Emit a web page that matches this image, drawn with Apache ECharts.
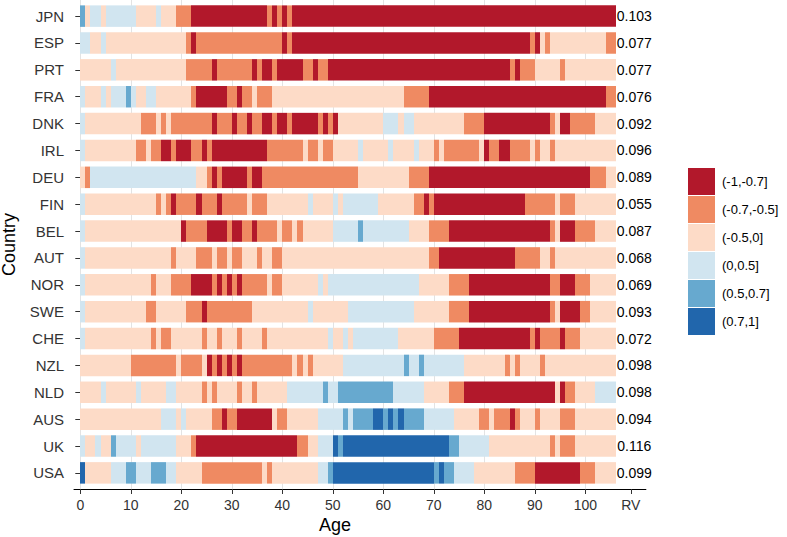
<!DOCTYPE html>
<html><head><meta charset="utf-8">
<script src="https://cdn.jsdelivr.net/npm/echarts@6/dist/echarts.min.js"></script>
<style>html,body{margin:0;padding:0;background:#fff}#c{width:787px;height:537px}</style>
</head><body><div id="c"></div>
<script>
const countries = ['JPN','ESP','PRT','FRA','DNK','IRL','DEU','FIN','BEL','AUT','NOR','SWE','CHE','NZL','NLD','AUS','UK','USA'];
const rvValues = ['0.103','0.077','0.077','0.076','0.092','0.096','0.089','0.055','0.087','0.068','0.069','0.093','0.072','0.098','0.098','0.094','0.116','0.099'];
const categoryLabels = ['(-1,-0.7]','(-0.7,-0.5]','(-0.5,0]','(0,0.5]','(0.5,0.7]','(0.7,1]'];
const categoryColors = ['#B2182B','#EF8A62','#FDDBC7','#D1E5F0','#67A9CF','#2166AC'];
const ageTicks = [0,10,20,30,40,50,60,70,80,90,100];
const rvTickLabel = 'RV';
// runs: [start age, category code 1..6]; each run lasts until the next start (last until age 106)
const JPN = [[0,5],[1,3],[2,4],[4,3],[5,4],[11,3],[15,4],[16,3],[19,2],[22,1],[37,2],[38,1],[39,2],[40,1],[41,2],[42,1]];
const ESP = [[0,4],[2,3],[4,4],[5,3],[21,2],[22,1],[23,2],[40,1],[41,2],[42,1],[89,2],[90,1],[91,3],[92,2],[93,3],[104,2]];
const PRT = [[0,3],[6,4],[7,3],[21,2],[26,1],[27,2],[34,1],[35,2],[36,1],[38,2],[39,1],[44,2],[46,1],[47,2],[49,1],[85,2],[86,1],[87,2],[90,3],[95,2],[96,3]];
const FRA = [[0,4],[1,3],[4,4],[5,3],[6,4],[9,5],[10,4],[11,3],[13,4],[15,3],[22,2],[23,1],[29,2],[31,1],[32,2],[34,3],[35,2],[38,3],[64,2],[69,1],[104,2]];
const DNK = [[0,4],[1,3],[12,2],[15,3],[16,2],[17,3],[18,2],[26,1],[27,2],[30,1],[31,2],[33,1],[34,2],[36,1],[38,2],[39,1],[41,2],[42,1],[47,2],[48,1],[49,2],[50,1],[51,3],[60,4],[63,3],[64,4],[66,3],[76,2],[80,1],[93,2],[94,3],[95,1],[97,2],[102,3]];
const IRL = [[0,4],[1,3],[11,2],[13,3],[14,2],[16,1],[18,2],[19,1],[22,2],[24,1],[25,2],[26,1],[37,2],[44,3],[45,2],[47,3],[48,2],[50,3],[55,4],[56,3],[61,4],[62,3],[66,4],[67,3],[70,2],[71,3],[72,2],[79,3],[80,1],[81,2],[83,1],[85,2],[89,3],[90,2],[91,3],[93,2],[94,3]];
const DEU = [[0,3],[1,2],[2,4],[23,3],[25,2],[26,1],[27,2],[28,1],[33,2],[34,1],[36,2],[55,3],[65,2],[69,1],[101,2],[104,3]];
const FIN = [[0,4],[1,3],[15,2],[16,3],[17,2],[18,1],[19,2],[23,1],[24,2],[27,1],[28,2],[33,3],[34,2],[37,3],[45,4],[46,3],[50,4],[51,3],[52,4],[59,3],[66,2],[68,1],[69,2],[70,1],[88,2],[94,3],[95,2],[98,3]];
const BEL = [[0,4],[1,3],[20,1],[21,2],[25,1],[29,2],[30,1],[32,2],[34,1],[35,2],[39,3],[40,2],[42,3],[43,2],[44,3],[50,4],[55,5],[56,4],[65,3],[69,2],[73,1],[93,2],[94,3],[95,1],[98,2],[102,3]];
const AUT = [[0,4],[1,3],[18,2],[19,3],[23,2],[26,3],[27,2],[29,3],[30,2],[32,3],[35,2],[36,3],[38,2],[40,3],[69,2],[71,1],[86,2],[91,3],[93,2],[94,3]];
const NOR = [[0,4],[1,3],[14,2],[15,3],[18,2],[22,1],[26,2],[27,1],[28,2],[29,1],[30,2],[31,1],[32,2],[37,3],[38,2],[40,3],[47,4],[48,3],[49,4],[67,3],[73,2],[77,1],[93,2],[95,1],[98,2],[101,3]];
const SWE = [[0,4],[1,3],[13,2],[15,3],[21,2],[24,1],[25,2],[34,3],[45,4],[46,3],[53,4],[66,3],[73,2],[77,1],[93,2],[94,3],[95,1],[99,2],[101,3]];
const CHE = [[0,4],[1,3],[14,2],[15,3],[16,2],[18,3],[24,2],[25,3],[27,2],[28,3],[31,2],[32,3],[36,2],[37,3],[49,4],[50,3],[52,4],[53,3],[54,4],[63,3],[70,2],[75,1],[89,2],[90,1],[91,2],[95,1],[96,2],[99,3]];
const NZL = [[0,3],[10,2],[19,3],[20,2],[24,3],[25,1],[26,2],[27,1],[28,2],[29,1],[30,2],[31,1],[32,2],[42,3],[43,2],[44,3],[45,2],[46,3],[52,4],[64,5],[65,4],[67,5],[68,4],[76,3],[84,2],[85,3],[86,2],[87,3],[91,2],[92,3]];
const NLD = [[0,3],[4,4],[5,3],[11,4],[12,3],[17,4],[19,3],[24,2],[25,3],[26,2],[27,3],[31,2],[32,3],[34,2],[35,3],[41,4],[48,5],[49,4],[51,5],[62,4],[68,3],[73,2],[76,1],[94,3],[95,1],[96,2],[98,3],[102,4]];
const AUS = [[0,3],[16,4],[19,3],[20,4],[21,3],[26,2],[28,1],[29,2],[31,1],[38,3],[39,2],[41,3],[47,4],[52,5],[53,4],[54,5],[58,6],[60,5],[61,6],[62,5],[63,6],[64,5],[68,4],[74,3],[79,2],[81,3],[82,2],[85,1],[86,2],[87,3],[90,2],[91,3],[95,2],[98,3]];
const UK  = [[0,4],[1,3],[3,4],[4,3],[6,5],[7,4],[11,3],[12,4],[19,3],[22,2],[23,1],[43,2],[45,3],[47,4],[50,6],[51,5],[52,6],[73,5],[75,4],[81,3],[93,2],[94,3],[95,2],[98,3]];
const USA = [[0,6],[1,3],[6,4],[9,5],[11,4],[14,5],[17,4],[19,3],[24,2],[36,3],[37,2],[38,3],[47,4],[49,5],[50,6],[70,5],[71,6],[72,5],[74,4],[78,3],[86,2],[90,1],[99,2],[102,3]];

const runsByCountry = {JPN,ESP,PRT,FRA,DNK,IRL,DEU,FIN,BEL,AUT,NOR,SWE,CHE,NZL,NLD,AUS,UK,USA};
const lastAge = 106;
const rvPos = 109;
const rvTextPos = 109.7;
const FONT = 'Liberation Sans, Arial, sans-serif';
const nC = countries.length;

function rowValue(i){ return nC - i; }

function runsFor(code){
  const out = [];
  countries.forEach((c,i)=>{
    const r = runsByCountry[c];
    r.forEach((seg,k)=>{
      const end = k+1 < r.length ? r[k+1][0] : lastAge;
      if (seg[1] === code) out.push([seg[0], end, rowValue(i)]);
    });
  });
  return out;
}

function renderTile(params, api){
  const s = api.value(0), e = api.value(1), y = api.value(2);
  const p0 = api.coord([s, y + 0.4]);
  const p1 = api.coord([e, y - 0.4]);
  const x0 = Math.round(p0[0]), x1 = Math.round(p1[0]);
  return {type:'rect', shape:{x:x0, y:p0[1], width:x1-x0, height:p1[1]-p0[1]}, style:{fill:api.visual('color')}};
}

const tileSeries = categoryLabels.map((lab,k)=>({
  type:'custom', name:lab, coordinateSystem:'cartesian2d', z:3,
  itemStyle:{color:categoryColors[k]},
  encode:{x:[0,1], y:2},
  renderItem: renderTile,
  data: runsFor(k+1)
}));

const chart = echarts.init(document.getElementById('c'), null, {renderer:'svg'});
chart.setOption({
  animation:false,
  backgroundColor:'#ffffff',
  grid:{left:74, top:0, width:571.9, height:489, containLabel:false, outerBoundsMode:'none'},
  xAxis:{type:'value', min:-1.25, max:112,
    axisLine:{show:true, lineStyle:{color:'#000', width:1}},
    axisTick:{show:true, length:5, lineStyle:{color:'#333'}, customValues:ageTicks.concat([rvPos])},
    axisLabel:{show:true, customValues:ageTicks.concat([rvPos]), formatter:v=> v===rvPos ? rvTickLabel : String(v), color:'#333', fontSize:14, fontFamily:FONT, margin:9},
    splitLine:{show:false}
  },
  yAxis:{type:'value', min:0.4, max:18.6,
    name:'Country', nameLocation:'middle', nameRotate:90, nameGap:56, nameTextStyle:{fontSize:18, color:'#000', fontFamily:FONT},
    axisLine:{show:true, lineStyle:{color:'#000', width:1}},
    axisTick:{show:true, length:5, lineStyle:{color:'#333'}, customValues:countries.map((c,i)=>rowValue(i))},
    axisLabel:{show:true, customValues:countries.map((c,i)=>rowValue(i)), formatter:v=> countries[nC - v], color:'#333', fontSize:15, fontFamily:FONT, margin:10},
    splitLine:{show:false}
  },
  legend:{orient:'vertical', left:688, top:168, itemWidth:27, itemHeight:27, itemGap:1, icon:'rect', padding:0,
    data:categoryLabels, textStyle:{fontSize:13, color:'#000', fontFamily:FONT, padding:[0,0,0,2]}, selectedMode:false},
  graphic:[{type:'text', style:{text:'Age', x:335, y:525, fill:'#000', font:'18px '+FONT, textAlign:'center', textVerticalAlign:'middle'}}],
  series:[
    {type:'custom', name:'grid', coordinateSystem:'cartesian2d', z:1, silent:true,
     encode:{x:0},
     data: ageTicks.map(v=>[v]),
     renderItem:(params, api)=>{
       const pTop = api.coord([api.value(0), 18.6]);
       const pBot = api.coord([api.value(0), 0.4]);
       const x = Math.round(pTop[0]) + 0.5;
       return {type:'line', shape:{x1:x, y1:pTop[1], x2:x, y2:pBot[1]}, style:{stroke:'#E3E3E3', lineWidth:1}};
     }},
    ...tileSeries,
    {type:'custom', name:'RV', coordinateSystem:'cartesian2d', z:4, silent:true,
     encode:{x:0, y:1},
     data: rvValues.map((v,i)=>[rvTextPos, rowValue(i)]),
     renderItem:(params, api)=>{
       const p = api.coord([api.value(0), api.value(1)]);
       return {type:'text', x:p[0], y:p[1], style:{text:rvValues[params.dataIndex], fill:'#000', font:'14px '+FONT, textAlign:'center', textVerticalAlign:'middle'}};
     }}
  ]
});
</script></body></html>
